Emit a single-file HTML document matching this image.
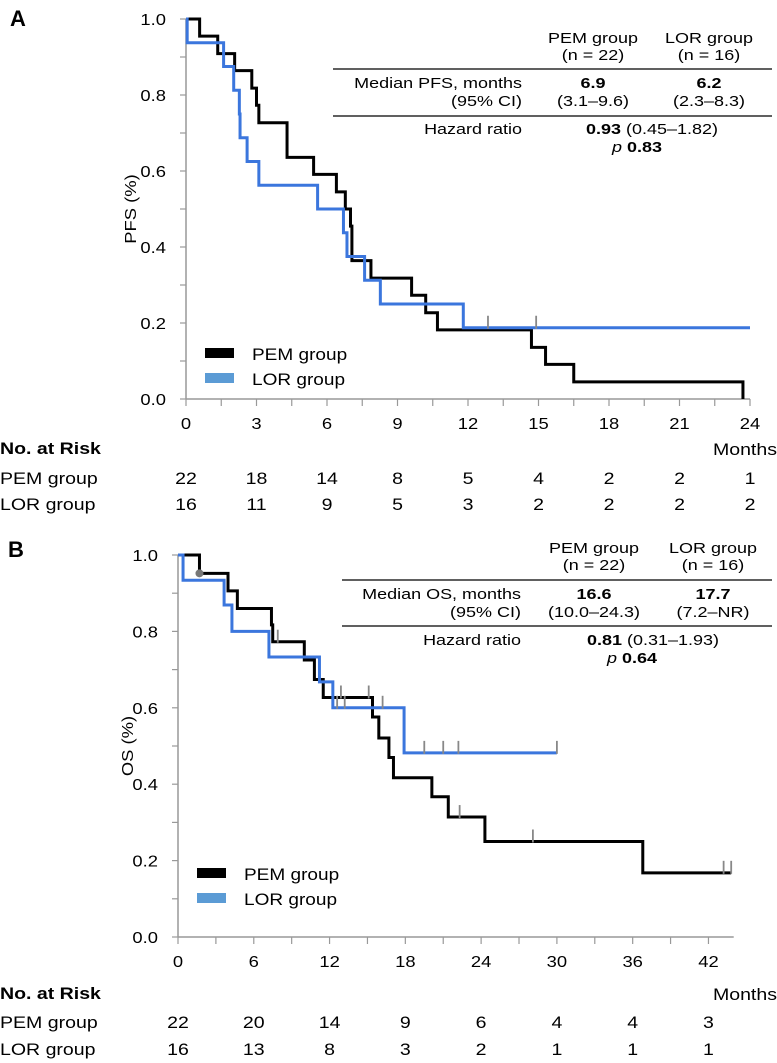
<!DOCTYPE html>
<html><head><meta charset="utf-8">
<style>
body{margin:0;background:#fff;}
svg{display:block;font-family:"Liberation Sans",Arial,sans-serif;}
</style></head>
<body>
<svg id="fig" width="777" height="1063" viewBox="0 0 777 1063" xmlns="http://www.w3.org/2000/svg">
<text x="10" y="26" font-size="22" font-weight="bold">A</text>
<text x="8" y="557" font-size="22" font-weight="bold">B</text>
<g font-size="15" fill="#000">
<text transform="translate(593,43) scale(1.2,1)" text-anchor="middle">PEM group</text>
<text transform="translate(593,60) scale(1.2,1)" text-anchor="middle">(n = 22)</text>
<text transform="translate(709,43) scale(1.2,1)" text-anchor="middle">LOR group</text>
<text transform="translate(709,60) scale(1.2,1)" text-anchor="middle">(n = 16)</text>
<line x1="333" y1="69" x2="772" y2="69" stroke="#000" stroke-width="1.2"/>
<text transform="translate(522,88) scale(1.2,1)" text-anchor="end">Median PFS, months</text>
<text transform="translate(522,106) scale(1.2,1)" text-anchor="end">(95% CI)</text>
<text transform="translate(593,88) scale(1.2,1)" text-anchor="middle" font-weight="bold">6.9</text>
<text transform="translate(593,106) scale(1.2,1)" text-anchor="middle">(3.1–9.6)</text>
<text transform="translate(709,88) scale(1.2,1)" text-anchor="middle" font-weight="bold">6.2</text>
<text transform="translate(709,106) scale(1.2,1)" text-anchor="middle">(2.3–8.3)</text>
<line x1="333" y1="116" x2="772" y2="116" stroke="#000" stroke-width="1.2"/>
<text transform="translate(522,134) scale(1.2,1)" text-anchor="end">Hazard ratio</text>
<text transform="translate(652,134) scale(1.2,1)" text-anchor="middle"><tspan font-weight="bold">0.93</tspan> (0.45–1.82)</text>
<text transform="translate(637,152) scale(1.2,1)" text-anchor="middle"><tspan font-style="italic">p</tspan> <tspan font-weight="bold">0.83</tspan></text>

<text transform="translate(594,553) scale(1.2,1)" text-anchor="middle">PEM group</text>
<text transform="translate(594,570) scale(1.2,1)" text-anchor="middle">(n = 22)</text>
<text transform="translate(713,553) scale(1.2,1)" text-anchor="middle">LOR group</text>
<text transform="translate(713,570) scale(1.2,1)" text-anchor="middle">(n = 16)</text>
<line x1="342" y1="580" x2="772" y2="580" stroke="#000" stroke-width="1.2"/>
<text transform="translate(521,599) scale(1.2,1)" text-anchor="end">Median OS, months</text>
<text transform="translate(521,617) scale(1.2,1)" text-anchor="end">(95% CI)</text>
<text transform="translate(594,599) scale(1.2,1)" text-anchor="middle" font-weight="bold">16.6</text>
<text transform="translate(594,617) scale(1.2,1)" text-anchor="middle">(10.0–24.3)</text>
<text transform="translate(713,599) scale(1.2,1)" text-anchor="middle" font-weight="bold">17.7</text>
<text transform="translate(713,617) scale(1.2,1)" text-anchor="middle">(7.2–NR)</text>
<line x1="342" y1="626" x2="772" y2="626" stroke="#000" stroke-width="1.2"/>
<text transform="translate(521,645) scale(1.2,1)" text-anchor="end">Hazard ratio</text>
<text transform="translate(653,645) scale(1.2,1)" text-anchor="middle"><tspan font-weight="bold">0.81</tspan> (0.31–1.93)</text>
<text transform="translate(632,663) scale(1.2,1)" text-anchor="middle"><tspan font-style="italic">p</tspan> <tspan font-weight="bold">0.64</tspan></text>
</g>
</svg>
<script>
// ---- Panel A (PFS) data ----
const pfsTicks = [0,3,6,9,12,15,18,21,24];
const pfsPemT = [0,0.58,1.35,2.07,2.8,3.0,3.1,4.3,5.43,6.4,6.78,7.0,7.06,7.87,9.6,10.2,10.7,14.7,15.3,16.5,23.7];
const pfsPemS = [1,0.955,0.909,0.864,0.818,0.773,0.727,0.636,0.591,0.545,0.5,0.455,0.364,0.318,0.273,0.227,0.182,0.136,0.091,0.045,0];
const pfsPemEnd = 23.7;
const pfsLorT = [0,0.05,1.6,2.03,2.27,2.3,2.6,3.1,5.6,6.7,6.85,7.6,8.27,11.8];
const pfsLorS = [1,0.9375,0.875,0.8125,0.75,0.6875,0.625,0.5625,0.5,0.4375,0.375,0.3125,0.25,0.1875];
const pfsLorEnd = 24;
const pfsLorCens = [12.85,14.9];
const pfsPemCens = [];
const pfsRiskPem = [22,18,14,8,5,4,2,2,1];
const pfsRiskLor = [16,11,9,5,3,2,2,2,2];
// ---- Panel B (OS) data ----
const osTicks = [0,6,12,18,24,30,36,42];
const osPemT = [0,1.7,3.96,4.7,7.4,7.5,10.0,10.8,11.5,15.4,15.9,16.7,17.06,20.1,21.4,24.3,36.8];
const osPemS = [1,0.952,0.906,0.86,0.817,0.773,0.725,0.674,0.627,0.576,0.521,0.47,0.417,0.367,0.314,0.25,0.168];
const osPemEnd = 43.8;
const osPemCens = [7.9,12.9,15.1,22.3,28.1,43.2,43.8];
const osLorT = [0,0.4,3.65,4.27,7.2,11.2,12.26,17.9];
const osLorS = [1,0.934,0.869,0.80,0.733,0.668,0.60,0.482];
const osLorEnd = 30.0;
const osLorCens = [12.6,13.2,16.2,19.5,21.0,22.2,30.0];
const osRiskPem = [22,20,14,9,6,4,4,3];
const osRiskLor = [16,13,8,3,2,1,1,1];

const NS='http://www.w3.org/2000/svg';
const svg=document.getElementById('fig');
function mk(tag,attrs,parent){const e=document.createElementNS(NS,tag);for(const k in attrs)e.setAttribute(k,attrs[k]);(parent||svg).appendChild(e);return e;}
function txt(parent,x,y,str,size,anchor,sx,weight){
  const t=mk('text',{transform:`translate(${x},${y}) scale(${sx},1)`,'text-anchor':anchor,'font-size':size},parent);
  if(weight)t.setAttribute('font-weight',weight);
  t.textContent=str;return t;
}

function panel(cfg){
  const xs=v=>cfg.x0+(v/cfg.xmax)*(cfg.x1-cfg.x0);
  const ys=v=>cfg.y0-v*(cfg.y0-cfg.y1);
  const g=mk('g',{});
  
  
  const ax=mk('line',{x1:xs(0),y1:cfg.y0,x2:cfg.x1,y2:cfg.y0,stroke:'#999','stroke-width':1.5},g);
  
  
  const ay=mk('line',{x1:xs(0),y1:cfg.y0,x2:xs(0),y2:cfg.y1,stroke:'#999','stroke-width':1.5},g);
  
  
  for(let v=0;v<=10;v++){
    mk('line',{x1:xs(0)-6,y1:ys(v/10),x2:xs(0),y2:ys(v/10),stroke:'#999','stroke-width':1.2},g);
    if(v%2===0){const t=txt(g,xs(0)-20,ys(v/10)+6,(v/10).toFixed(1),16,'end',1.15);
      
      }
  }
  for(let m=0;m<=cfg.xmax+0.001;m+=cfg.minor){
    mk('line',{x1:xs(m),y1:cfg.y0,x2:xs(m),y2:cfg.y0+7,stroke:'#999','stroke-width':1.2},g);
  }
  cfg.ticks.forEach(m=>{const t=txt(g,xs(m),cfg.tickY,String(m),16,'middle',1.15);
    
    });
  const yt=mk('text',{x:0,y:0,'text-anchor':'middle','font-size':16,transform:`translate(${cfg.ytx},${(cfg.y0+cfg.y1)/2}) rotate(-90) scale(1.15,1)`},g);
  yt.textContent=cfg.ytitle;
  
  
  function curve(T,S,end,color,cens,nm){
    let d=`M${xs(T[0])},${ys(S[0])}`;
    for(let i=1;i<T.length;i++){d+=` H${xs(T[i])} V${ys(S[i])}`;}
    d+=` H${xs(end)}`;
    const p=mk('path',{d:d,fill:'none',stroke:color,'stroke-width':3},g);
    
    
    cens.forEach(c=>{let s=S[0];for(let i=0;i<T.length;i++)if(T[i]<=c)s=S[i];
      const l=mk('line',{x1:xs(c),y1:ys(s)-12,x2:xs(c),y2:ys(s)+1,stroke:'#888','stroke-width':1.8},g);
      
      });
  }
  curve(cfg.pemT,cfg.pemS,cfg.pemEnd,'#000',cfg.pemC,cfg.name+'-pem-curve');
  curve(cfg.lorT,cfg.lorS,cfg.lorEnd,'#3b76dd',cfg.lorC,cfg.name+'-lor-curve');
  if(cfg.dot!==undefined){const c=mk('circle',{cx:xs(cfg.dot),cy:ys(0.952),r:4,fill:'#777'},g);
    
    }
  [['PEM group','#000',0],['LOR group','#5b9bd5',1]].forEach(([lab,col,i])=>{
    const yy=cfg.legY+i*25;
    const r=mk('rect',{x:cfg.x0+19,y:yy-5,width:29,height:10,fill:col},g);
    
    
    const t=txt(g,cfg.x0+66,yy+7,lab,17,'start',1.12);
    
    
  });
  const h=txt(g,0,cfg.riskY,'No. at Risk',17,'start',1.15,'bold');
  
  
  const mo=txt(g,777,cfg.monY,'Months',17,'end',1.15);
  
  
  [['PEM group',cfg.rPem,cfg.r1],['LOR group',cfg.rLor,cfg.r2]].forEach(([lab,arr,yy])=>{
    const t=txt(g,0,yy,lab,17,'start',1.15);
    
    
    arr.forEach((n,i)=>{const c=txt(g,xs(cfg.ticks[i]),yy,String(n),17,'middle',1.15);
      
      });
  });
}
panel({name:'pfs',x0:186,x1:750,y0:399,y1:19,xmax:24,minor:1.5,ticks:pfsTicks,tickY:429,ytx:136,ytitle:'PFS (%)',
  pemT:pfsPemT,pemS:pfsPemS,pemEnd:pfsPemEnd,pemC:pfsPemCens,lorT:pfsLorT,lorS:pfsLorS,lorEnd:pfsLorEnd,lorC:pfsLorCens,
  legY:353,riskY:454,monY:455,r1:484,r2:510,rPem:pfsRiskPem,rLor:pfsRiskLor});
panel({name:'os',x0:178,x1:178+12.63*44,y0:937,y1:555,xmax:44,minor:3,ticks:osTicks,tickY:967,ytx:133,ytitle:'OS (%)',
  pemT:osPemT,pemS:osPemS,pemEnd:osPemEnd,pemC:osPemCens,lorT:osLorT,lorS:osLorS,lorEnd:osLorEnd,lorC:osLorCens,dot:1.7,
  legY:873,riskY:999,monY:1000,r1:1028,r2:1055,rPem:osRiskPem,rLor:osRiskLor});
</script>
</body></html>
